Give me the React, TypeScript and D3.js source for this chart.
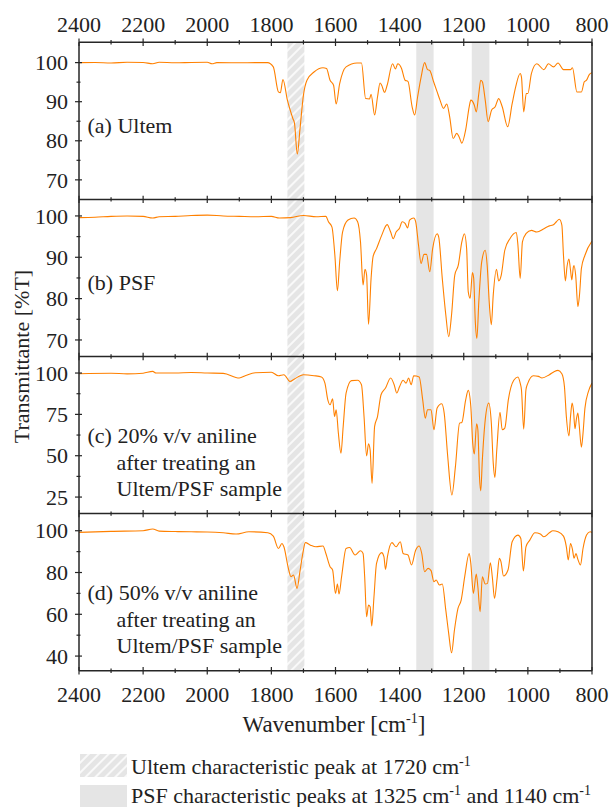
import React from "react";
import * as d3 from "d3";

// ---------- data (wavenumber cm-1, transmittance %T) ----------
const ultem: [number, number][] = [
  [2400,100],[2350,100.05],[2300,99.9],[2250,100.1],[2200,100.05],[2170,99.7],[2150,100.1],[2100,99.95],[2050,100.05],[2000,100.1],[1985,99.7],[1970,100],[1900,99.95],[1850,100],[1812,100],
  [1794,98.9],[1778,92.5],[1772,92.3],[1764,95.7],[1750,90.4],[1733,85.7],[1728,84.5],[1719,76.6],[1711,82.8],[1700,91.7],[1689,95.5],[1667,97.6],[1639,98.7],[1628,98.5],[1617,95.5],[1606,94.2],[1598,89.4],[1587,94.6],[1567,98.9],[1533,99.9],[1519,99.9],
  [1506,90.8],[1494,90.7],[1489,91.9],[1478,86.6],[1469,91.2],[1461,94.8],[1456,94.2],[1447,92.4],[1439,94.2],[1422,99.7],[1413,98.4],[1406,99.7],[1394,98.5],[1383,95.5],[1374,95.2],[1361,88.7],[1353,86.6],[1344,91.2],[1333,96.3],[1322,100],[1313,98.2],[1306,98.0],[1294,95.1],[1283,92.5],[1274,90.4],[1263,88.3],[1253,89.4],[1244,86.2],[1233,80.6],[1222,81.9],[1214,80.9],[1206,79.4],[1194,82.8],[1183,88.7],[1178,90.4],[1167,89.1],[1161,87.4],[1153,92.1],[1147,95.5],[1142,95.1],[1133,90.4],[1124,84.9],[1113,87.9],[1102,88.7],[1091,90.8],[1080,88.7],[1063,83.6],[1049,89.5],[1038,93.8],[1024,97.2],[1020,96.3],[1013,87.4],[1005,92.1],[1000,92.1],[989,97.2],[972,99.7],[950,98.2],[936,99.7],[920,98.9],[906,99.9],[889,98.2],[867,98.2],[861,98.7],[847,92.5],[833,92.5],[824,95.1],[817,95.5],[808,97.0],[800,97.4]
];

const psf: [number, number][] = [
  [2400,99.6],[2350,99.7],[2300,99.9],[2250,100],[2200,99.9],[2170,99.5],[2150,99.8],[2100,99.9],[2050,100.1],[2000,100.2],[1950,100],[1900,99.9],[1850,99.8],[1800,99.9],[1775,99.5],[1740,99.6],[1700,100.1],[1660,99.8],[1630,99.9],
  [1622,98.6],[1611,97.3],[1602,90.5],[1594,81.9],[1587,88.9],[1578,96.1],[1561,99.0],[1542,99.5],[1531,98.6],[1522,93.7],[1514,83.3],[1508,87.1],[1503,85.7],[1497,73.8],[1489,84.9],[1483,90.1],[1472,92.1],[1456,95.3],[1439,97.9],[1428,96.1],[1420,94.5],[1411,96.1],[1400,97.1],[1392,98.6],[1383,98.2],[1375,97.1],[1369,99.0],[1356,99.5],[1350,98.6],[1341,92.9],[1333,88.5],[1324,90.7],[1316,90.7],[1306,86.5],[1297,92.1],[1283,95.7],[1278,94.9],[1267,84.9],[1256,76.1],[1247,70.8],[1238,76.1],[1228,85.7],[1217,88.1],[1206,93.7],[1198,95.7],[1191,92.1],[1186,81.7],[1180,80.1],[1173,86.3],[1169,84.9],[1164,74.5],[1159,70.4],[1153,79.3],[1144,88.9],[1133,91.7],[1127,88.1],[1120,78.5],[1114,73.7],[1108,80.9],[1098,87.1],[1091,84.3],[1083,85.7],[1072,91.7],[1056,94.5],[1036,96.0],[1031,92.9],[1024,84.9],[1017,93.7],[1006,95.7],[989,96.5],[972,96.1],[950,96.9],[933,97.6],[922,97.8],[911,98.6],[902,99.2],[894,97.8],[889,90.5],[883,84.3],[878,87.7],[872,89.6],[867,86.9],[863,84.5],[858,87.7],[856,88],[851,85.7],[844,78.1],[839,80.9],[833,87.3],[822,90.5],[800,93.9]
];

const aniline20: [number, number][] = [
  [2400,99.6],[2300,99.9],[2250,99.5],[2200,99.9],[2170,101],[2160,100],[2100,100],[2050,100.3],[2000,100],[1950,99.8],[1900,97],[1880,98.5],[1850,100.2],[1800,100.5],[1778,98.4],[1761,99],[1742,94.9],[1728,96.4],[1700,99],[1667,98.4],[1644,97.6],
  [1633,93.9],[1624,83.8],[1617,80.8],[1609,84.4],[1603,73.7],[1598,77.8],[1591,63.6],[1583,51.5],[1576,67.7],[1567,87.9],[1550,95.4],[1531,95.6],[1519,92.9],[1511,73.7],[1503,49.9],[1497,57.2],[1492,53.5],[1486,33.3],[1478,67.7],[1469,73.7],[1458,86.9],[1444,90.9],[1428,97],[1417,92.9],[1409,87.9],[1400,91.9],[1389,95.6],[1380,93.9],[1372,97],[1364,92.9],[1356,98.4],[1339,97.6],[1328,83.8],[1320,72.7],[1313,77.8],[1302,77.8],[1293,65.7],[1283,78.8],[1269,81.4],[1261,75.8],[1250,49.5],[1237,26.3],[1226,43.4],[1213,69.7],[1206,70.1],[1194,83.8],[1186,89.5],[1178,79.8],[1172,57.6],[1167,51.1],[1160,69.3],[1156,65.7],[1151,37.4],[1147,28.7],[1142,47.5],[1133,71.7],[1122,81.8],[1114,69.7],[1108,45.5],[1103,36.8],[1097,53.5],[1087,76.2],[1080,65.7],[1072,66.7],[1061,83.8],[1044,95.6],[1031,97.6],[1024,93.9],[1020,89.9],[1013,66.1],[1006,89.9],[1000,93.9],[983,98.4],[967,98],[956,97],[933,99],[917,101],[906,101.6],[894,99.6],[886,91.9],[880,73.7],[872,62],[867,73.7],[862,81.8],[858,77.8],[853,66.3],[849,71.7],[844,75.8],[840,68.7],[833,55.2],[828,63.6],[822,78.8],[811,88.9],[800,93.9]
];

const aniline50: [number, number][] = [
  [2400,99.2],[2300,99.7],[2200,100],[2170,100.8],[2150,99.8],[2100,99.6],[2050,99.5],[2000,99.4],[1950,99],[1910,98.4],[1870,99.5],[1811,99],
  [1794,97.4],[1778,91.5],[1767,93.9],[1761,92.3],[1747,82],[1739,78],[1731,78.8],[1720,72.4],[1711,80.4],[1702,89.1],[1694,94.3],[1678,93.1],[1661,92.3],[1639,92.7],[1630,89.1],[1617,82.8],[1609,81.2],[1600,70],[1594,74.5],[1589,69.7],[1581,78],[1567,91.5],[1556,92],[1539,88.4],[1522,90.4],[1514,89.1],[1509,78],[1503,58.8],[1497,64.4],[1492,63.6],[1487,54.4],[1480,68.4],[1472,84.4],[1456,89.5],[1449,87.6],[1444,81.5],[1438,87.6],[1424,94.3],[1411,92.3],[1398,94.7],[1389,89.1],[1374,88.4],[1363,83.6],[1350,90.7],[1339,92.7],[1331,89.1],[1322,80.4],[1311,82],[1302,80.9],[1293,75.6],[1286,76.4],[1276,74],[1267,74.5],[1256,62],[1247,50.9],[1238,41.6],[1229,52.5],[1218,62.8],[1208,66.8],[1197,78],[1183,89.1],[1178,84.4],[1170,70],[1161,79.3],[1156,73.2],[1149,61.2],[1142,78],[1133,74.5],[1126,74.8],[1117,84.7],[1111,78],[1104,67.6],[1096,77.2],[1089,86.8],[1084,85.2],[1076,78.3],[1062,81.2],[1049,94.7],[1031,97.9],[1022,96.3],[1014,80.7],[1006,92.3],[994,95.5],[978,99],[961,98.4],[950,97.1],[933,99],[922,100],[906,99.5],[889,97.4],[880,92.3],[874,86],[867,93.9],[861,91.1],[856,86.8],[850,89.1],[844,86.3],[836,83.6],[828,91.5],[817,97.9],[806,99.5],[800,99.2]
];

const panelLabels: string[][] = [
  ["(a) Ultem"],
  ["(b) PSF"],
  ["(c) 20% v/v aniline", "after treating an", "Ultem/PSF sample"],
  ["(d) 50% v/v aniline", "after treating an", "Ultem/PSF sample"],
];
const yDomains: [number, number][] = [[65, 105.2], [66, 104], [15, 110], [33, 108.2]];
const yMajor: number[][] = [[70, 80, 90, 100], [70, 80, 90, 100], [25, 50, 75, 100], [40, 60, 80, 100]];
const yMinor: number[][] = [[75, 85, 95], [75, 85, 95], [37.5, 62.5, 87.5], [50, 70, 90]];
const xMajor = [2400, 2200, 2000, 1800, 1600, 1400, 1200, 1000, 800];
const xMinor = [2300, 2100, 1900, 1700, 1500, 1300, 1100, 900];
const ultemBand: [number, number] = [1750, 1697];
const psfBands: [number, number][] = [[1348, 1294], [1175, 1120]];
const series = [ultem, psf, aniline20, aniline50];

// ---------- layout ----------
const W = 609, H = 807;
const left = 79, right = 592, top = 42.3, bottom = 670.7;
const panelH = (bottom - top) / 4;
const FONT = "Liberation Serif, Times New Roman, serif";
const AX = "#262626";
const LINE = "#ff8000";
const GRAY = "#e5e5e5";
const FS = 22;
const TXT = "#222";

export default function App() {
  const x = d3.scaleLinear().domain([2400, 800]).range([left, right]);
  const labelBase = [133, 290, 443, 600];
  const lineGap = 26.5;
  const tStyle = { fontFamily: FONT };

  return (
    <svg width={W} height={H} style={{ position: "absolute", left: 0, top: 0, background: "#fff", fontFamily: FONT }}>
      <defs>
        <pattern id="hatch" patternUnits="userSpaceOnUse" width="7" height="7" patternTransform="rotate(45)">
          <rect width="7" height="7" fill={GRAY} />
          <line x1="1" y1="0" x2="1" y2="7" stroke="#fff" strokeWidth="1.6" />
        </pattern>
        {series.map((_, i) => (
          <clipPath id={`clip${i}`} key={i}>
            <rect x={left} y={top + i * panelH} width={right - left} height={panelH} />
          </clipPath>
        ))}
      </defs>

      {/* bands */}
      <rect x={x(ultemBand[0])} y={top} width={x(ultemBand[1]) - x(ultemBand[0])} height={bottom - top} fill="url(#hatch)" />
      {psfBands.map((b, i) => (
        <rect key={i} x={x(b[0])} y={top} width={x(b[1]) - x(b[0])} height={bottom - top} fill={GRAY} />
      ))}

      {series.map((data, i) => {
        const y0 = top + i * panelH;
        const y = d3.scaleLinear().domain(yDomains[i]).range([y0 + panelH, y0]);
        const line = d3.line<[number, number]>().x(d => x(d[0])).y(d => y(d[1])).curve(d3.curveMonotoneX);
        return (
          <g key={i}>
            <path d={line(data) || ""} fill="none" stroke={LINE} strokeWidth={1.1} clipPath={`url(#clip${i})`} />
            {yMajor[i].map(v => (
              <g key={"M" + v}>
                <line x1={left - 4} x2={left + 3} y1={y(v)} y2={y(v)} stroke={AX} strokeWidth={1.2} />
                <text x={68} y={y(v)} dy="0.35em" textAnchor="end" fontSize={FS} fill={TXT} style={tStyle}>{v}</text>
              </g>
            ))}
            {yMinor[i].map(v => (
              <line key={"m" + v} x1={left - 2.5} x2={left + 1.5} y1={y(v)} y2={y(v)} stroke={AX} strokeWidth={1.2} />
            ))}
            <text fontSize={FS} fill={TXT} style={tStyle}>
              {panelLabels[i].map((t, j) => (
                <tspan key={j} x={j === 0 ? 87.5 : 116.5} y={labelBase[i] + j * lineGap}>{t}</tspan>
              ))}
            </text>
          </g>
        );
      })}

      {/* horizontal borders with ticks */}
      {[0, 1, 2, 3, 4].map(k => {
        const yy = top + k * panelH;
        return (
          <g key={k}>
            <line x1={left} x2={right} y1={yy} y2={yy} stroke={AX} strokeWidth={1.5} />
            {xMajor.map(v => (
              <line key={"M" + v} x1={x(v)} x2={x(v)} y1={yy - 3.7} y2={yy + 3.7} stroke={AX} strokeWidth={1.2} />
            ))}
            {xMinor.map(v => (
              <line key={"m" + v} x1={x(v)} x2={x(v)} y1={yy - 2.2} y2={yy + 2.2} stroke={AX} strokeWidth={1.2} />
            ))}
          </g>
        );
      })}
      <line x1={left} x2={left} y1={top} y2={bottom} stroke={AX} strokeWidth={1.5} />
      <line x1={right} x2={right} y1={top} y2={bottom} stroke={AX} strokeWidth={1.5} />

      {/* x tick labels */}
      {xMajor.map(v => (
        <g key={v}>
          <text x={x(v)} y={31.5} textAnchor="middle" fontSize={FS} fill={TXT} style={tStyle}>{v}</text>
          <text x={x(v)} y={701.5} textAnchor="middle" fontSize={FS} fill={TXT} style={tStyle}>{v}</text>
        </g>
      ))}

      {/* axis titles */}
      <text x={334} y={732} textAnchor="middle" fontSize={23} fill={TXT} style={tStyle}>
        Wavenumber [cm<tspan dy={-9} fontSize={14}>-1</tspan><tspan dy={9}>]</tspan>
      </text>
      <text transform={`translate(29,${(top + bottom) / 2}) rotate(-90)`} textAnchor="middle" fontSize={FS} fill={TXT} style={tStyle}>
        Transmittante [%T]
      </text>

      {/* legend */}
      <rect x={80} y={754} width={47} height={23} fill="url(#hatch)" />
      <rect x={80} y={785} width={47} height={24} fill={GRAY} />
      <text x={131} y={774} fontSize={FS} fill={TXT} style={tStyle}>
        Ultem characteristic peak at 1720 cm<tspan dy={-8} fontSize={14}>-1</tspan>
      </text>
      <text x={131} y={803} fontSize={FS} fill={TXT} style={tStyle}>
        PSF characteristic peaks at 1325 cm<tspan dy={-8} fontSize={14}>-1</tspan><tspan dy={8}> and 1140 cm</tspan><tspan dy={-8} fontSize={14}>-1</tspan>
      </text>
    </svg>
  );
}
